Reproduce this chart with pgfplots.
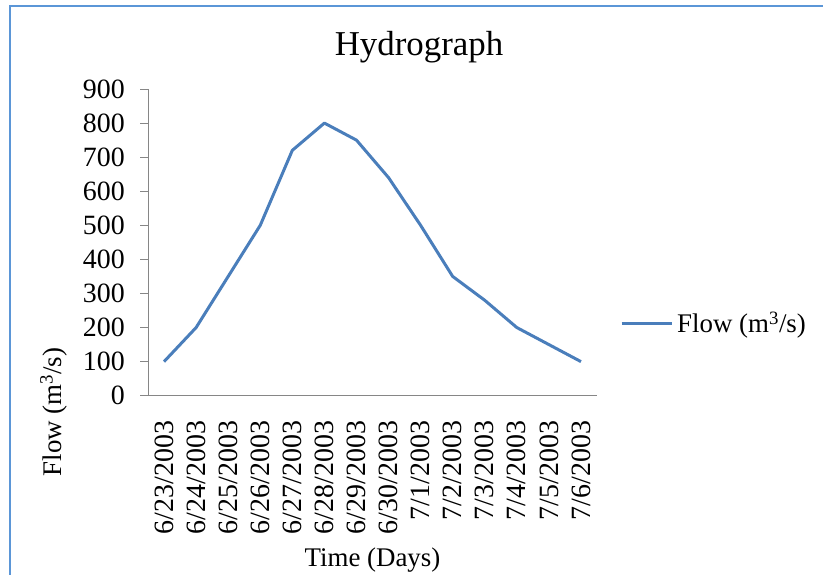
\documentclass[border=0pt]{standalone}
\usepackage{pgfplots}
\pgfplotsset{compat=1.18}
\usepackage{fontspec}
\setmainfont{Liberation Serif}
\definecolor{flowblue}{RGB}{74,126,187}
\definecolor{axisgray}{RGB}{134,134,134}
\definecolor{frameblue}{RGB}{91,150,215}

\begin{document}
\begin{tikzpicture}
\useasboundingbox (0bp,0bp) rectangle (823bp,575bp);
% chart area frame
\draw[frameblue, line width=2bp] (9.5bp,-2bp) -- (9.5bp,568.5bp) -- (825bp,568.5bp);
% chart title
\node[font=\fontsize{35}{40}\selectfont, anchor=base, inner sep=0pt] at (419bp,519bp) {Hydrograph};
\begin{axis}[
  at={(148bp,179.3bp)}, anchor=south west,
  scale only axis, width=449bp, height=306.7bp,
  xmin=-0.5, xmax=13.5, ymin=0, ymax=900,
  axis x line*=bottom, axis y line*=left,
  axis line style={axisgray, line width=1bp, -},
  xtick={0,...,13},
  xticklabels={6/23/2003,6/24/2003,6/25/2003,6/26/2003,6/27/2003,6/28/2003,6/29/2003,6/30/2003,7/1/2003,7/2/2003,7/3/2003,7/4/2003,7/5/2003,7/6/2003},
  x tick style={draw=none},
  ytick={0,100,...,900},
  y tick style={axisgray, line width=1bp},
  tick align=outside, major tick length=8bp,
  /pgf/number format/assume math mode=true,
  tick label style={font=\fontsize{28}{33}\selectfont},
  yticklabel style={anchor=east, inner sep=0pt},
  yticklabel shift=15bp,
  xticklabel style={rotate=90, anchor=east, inner sep=0pt},
  xticklabel shift=17bp,
  every axis x label/.style={at={(rel axis cs:0.5,-0.5575)}, anchor=base, inner sep=0pt},
  every axis y label/.style={at={(rel axis cs:-0.1922,-0.053)}, rotate=90, anchor=base, inner sep=0pt},
  label style={font=\fontsize{27}{32}\selectfont},
  xlabel={Time (Days)},
  ylabel={Flow (m\textsuperscript{3}/s)},
  legend style={at={(rel axis cs:1.0512,0.237)}, anchor=west, draw=none, fill=none,
    inner sep=0pt, font=\fontsize{27}{32}\selectfont, nodes={inner sep=0pt}, column sep=4bp},
  legend image code/.code={\draw[#1] (0bp,0bp) -- (50bp,0bp);},
  clip=false,
]
\addplot[flowblue, line width=3bp, line join=round] coordinates {
  (0,100) (1,200) (2,350) (3,500) (4,720) (5,800) (6,750)
  (7,640) (8,500) (9,350) (10,280) (11,200) (12,150) (13,100)};
\addlegendentry{Flow (m\textsuperscript{3}/s)}
\end{axis}
\end{tikzpicture}
\end{document}
